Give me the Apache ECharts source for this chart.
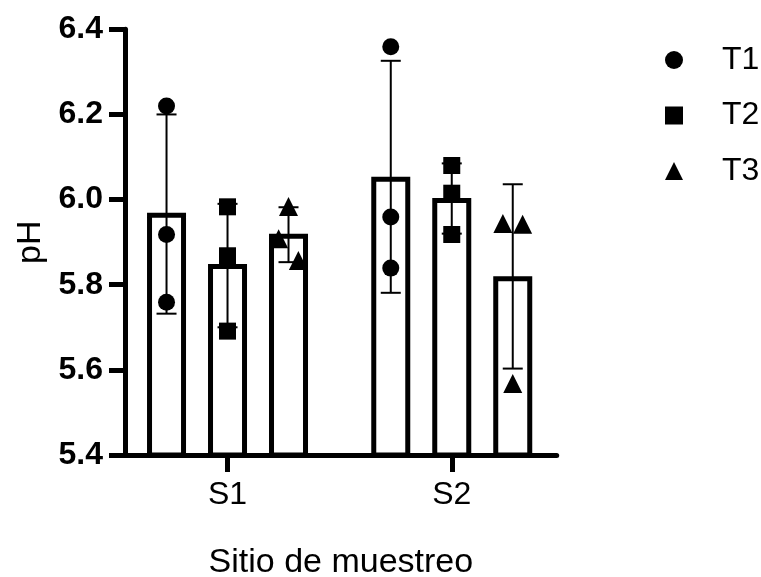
<!DOCTYPE html>
<html>
<head>
<meta charset="utf-8">
<script src="https://cdn.jsdelivr.net/npm/echarts@6/dist/echarts.min.js"></script>
<style>html,body{margin:0;padding:0;background:#fff}#c{width:761px;height:577px}</style>
</head>
<body>
<div id="c"></div>
<script>
// ---- data ----
const categories = ['S1', 'S2'];
const treatments = ['T1', 'T2', 'T3'];
const yTicks = [5.4, 5.6, 5.8, 6.0, 6.2, 6.4];

// bar heights (means) per treatment, for S1, S2
const meanT1 = [5.963, 6.048];
const meanT2 = [5.843, 5.998];
const meanT3 = [5.914, 5.814];

// error bar ends [low, high] per treatment, for S1, S2
const errT1 = [[5.732, 6.200], [5.781, 6.326]];
const errT2 = [[5.700, 5.990], [5.920, 6.085]];
const errT3 = [[5.853, 5.982], [5.603, 6.036]];

// individual replicate points per treatment, for S1, S2
const ptsT1 = [[6.220, 5.918, 5.759], [6.359, 5.959, 5.839]];
const ptsT2 = [[5.983, 5.868, 5.691], [6.080, 6.015, 5.918]];
const ptsT3 = [[5.984, 5.908, 5.857], [5.944, 5.942, 5.568]];

// ---- layout (not data) ----
const groupOffset = [-0.272, 0, 0.272];        // bar position inside each site group (axis units)
const jitterT3 = [[0, -1, 1], [-1, 1, 0]];     // horizontal spread of overlapping triangles
const jitterStep = 0.044;
const means = [meanT1, meanT2, meanT3];
const errs = [errT1, errT2, errT3];
const pts = [ptsT1, ptsT2, ptsT3];
const symbols = ['circle', 'rect', 'triangle'];
const symSizes = [17, 17, 19];
const FONT = 'Liberation Sans, Arial, sans-serif';

const series = [];
treatments.forEach((t, ti) => {
  series.push({
    name: 'bar-' + t, type: 'custom', z: 1,
    encode: { x: 0, y: 1 },
    data: means[ti].map((m, ci) => [ci + groupOffset[ti], m]),
    renderItem: (params, api) => {
      const x = api.value(0), v = api.value(1);
      const top = api.coord([x, v]);
      const base = api.coord([x, 5.4]);
      return {
        type: 'rect',
        shape: { x: top[0] - 17, y: top[1], width: 34, height: base[1] - top[1] },
        style: { fill: '#fff', stroke: '#000', lineWidth: 5 }
      };
    }
  });
});
treatments.forEach((t, ti) => {
  series.push({
    name: 'err-' + t, type: 'custom', z: 2,
    encode: { x: 0, y: [1, 2] },
    data: errs[ti].map((e, ci) => [ci + groupOffset[ti], e[0], e[1]]),
    renderItem: (params, api) => {
      const x = api.value(0);
      const lo = api.coord([x, api.value(1)]);
      const hi = api.coord([x, api.value(2)]);
      const st = { stroke: '#000', lineWidth: 2 };
      return {
        type: 'group',
        children: [
          { type: 'line', shape: { x1: lo[0], y1: lo[1], x2: hi[0], y2: hi[1] }, style: st },
          { type: 'line', shape: { x1: hi[0] - 10, y1: hi[1], x2: hi[0] + 10, y2: hi[1] }, style: st },
          { type: 'line', shape: { x1: lo[0] - 10, y1: lo[1], x2: lo[0] + 10, y2: lo[1] }, style: st }
        ]
      };
    }
  });
});
treatments.forEach((t, ti) => {
  const data = [];
  pts[ti].forEach((arr, ci) => {
    arr.forEach((v, k) => {
      const j = ti === 2 ? jitterT3[ci][k] * jitterStep : 0;
      data.push([ci + groupOffset[ti] + j, v]);
    });
  });
  series.push({
    name: t, type: 'scatter', z: 3,
    symbol: symbols[ti], symbolSize: symSizes[ti],
    itemStyle: { color: '#000', opacity: 1 },
    data: data
  });
});

const chart = echarts.init(document.getElementById('c'), null, { renderer: 'canvas' });
chart.setOption({
  animation: false,
  backgroundColor: '#fff',
  textStyle: { fontFamily: FONT },
  grid: { left: 125, top: 29.3, right: 204.3, bottom: 122, containLabel: false, outerBoundsMode: 'none' },
  legend: {
    data: treatments,
    orient: 'vertical',
    left: 660, top: 39,
    itemWidth: 18, itemHeight: 18, itemGap: 23.5,
    textStyle: { fontFamily: FONT, fontSize: 32, color: '#000', padding: [0, 0, 0, 34] },
    selectedMode: false
  },
  xAxis: {
    type: 'value',
    min: -0.4572, max: 1.468,
    splitLine: { show: false },
    axisLine: { show: true, onZero: false, lineStyle: { color: '#000', width: 5 } },
    axisTick: { show: true, customValues: [0, 1], length: 17, lineStyle: { color: '#000', width: 5 } },
    axisLabel: {
      customValues: [0, 1],
      formatter: v => categories[Math.round(v)],
      fontFamily: FONT, fontSize: 32, color: '#000', margin: 24
    },
    name: 'Sitio de muestreo', nameLocation: 'middle', nameGap: 91,
    nameTextStyle: { fontFamily: FONT, fontSize: 34, color: '#000' }
  },
  yAxis: {
    type: 'value',
    min: yTicks[0], max: yTicks[yTicks.length - 1], interval: 0.2,
    splitLine: { show: false },
    axisLine: { show: true, onZero: false, lineStyle: { color: '#000', width: 5 } },
    axisTick: { show: true, length: 16, lineStyle: { color: '#000', width: 5 } },
    axisLabel: {
      formatter: v => v.toFixed(1),
      fontFamily: FONT, fontSize: 32, fontWeight: 'bold', color: '#000', margin: 22
    },
    name: 'pH', nameLocation: 'middle', nameGap: 77,
    nameTextStyle: { fontFamily: FONT, fontSize: 34, color: '#000' }
  },
  series: series
});
</script>
</body>
</html>
